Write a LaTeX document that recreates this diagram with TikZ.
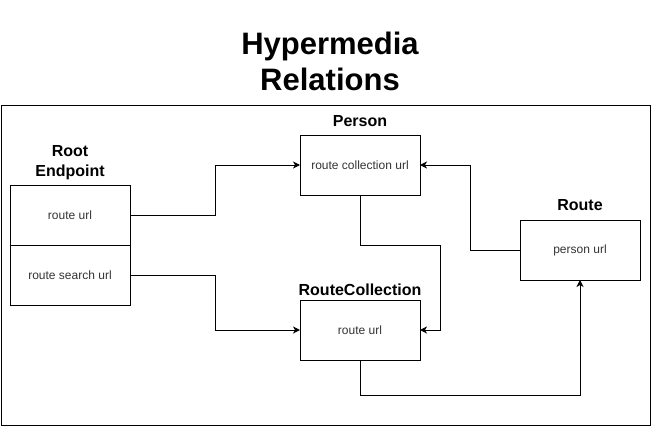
\documentclass[tikz,border=0pt]{standalone}
\usepackage{fontspec}
\setmainfont{Liberation Sans}
\usepackage{tikz}
\usetikzlibrary{arrows.meta, positioning}

\definecolor{boxtext}{HTML}{333333}

\tikzset{
  box/.style={draw, line width=1pt, minimum width=120pt, minimum height=60pt,
    inner sep=0pt, outer sep=0pt, text=boxtext, font=\fontsize{12}{14}\selectfont},
  heading/.style={font=\bfseries\fontsize{16}{20}\selectfont, align=center, inner sep=0pt},
  link/.style={line width=1pt, -{Stealth[length=7pt, width=7pt, inset=2pt]}},
}

\begin{document}
\begin{tikzpicture}[x=1pt, y=-1pt]
\useasboundingbox (0,0) rectangle (651,426);

% title and frame
\node[font=\bfseries\fontsize{31}{36}\selectfont, align=center, inner sep=0pt] (title) at (330,61) {Hypermedia\\Relations};
\draw[line width=1pt] (1,105) rectangle (650,425);

% nodes
\node[heading] (root-title) at (70,163) {Root\\Endpoint};
\node[box] (root-url) at (70,215) {route url};
\node[box] (root-search) at (70,275) {route search url};

\node[heading] (person-title) at (360,121) {Person};
\node[box] (person) at (360,165) {route collection url};

\node[heading] (collection-title) at (360,290) {RouteCollection};
\node[box] (collection) at (360,330) {route url};

\node[heading] (route-title) at (580,205) {Route};
\node[box] (route) at (580,250) {person url};

% arrows
\draw [link] (root-url.east) -- ++(85,0) |- (person.west);
\draw [link] (root-search.east) -- ++(85,0) |- (collection.west);
\draw [link] (person.south) -- ++(0,50) -- ++(80,0) |- (collection.east);
\draw [link] (route.west) -- ++(-50,0) |- (person.east);
\draw [link] (collection.south) -- ++(0,35) -| (route.south);
\end{tikzpicture}
\end{document}
